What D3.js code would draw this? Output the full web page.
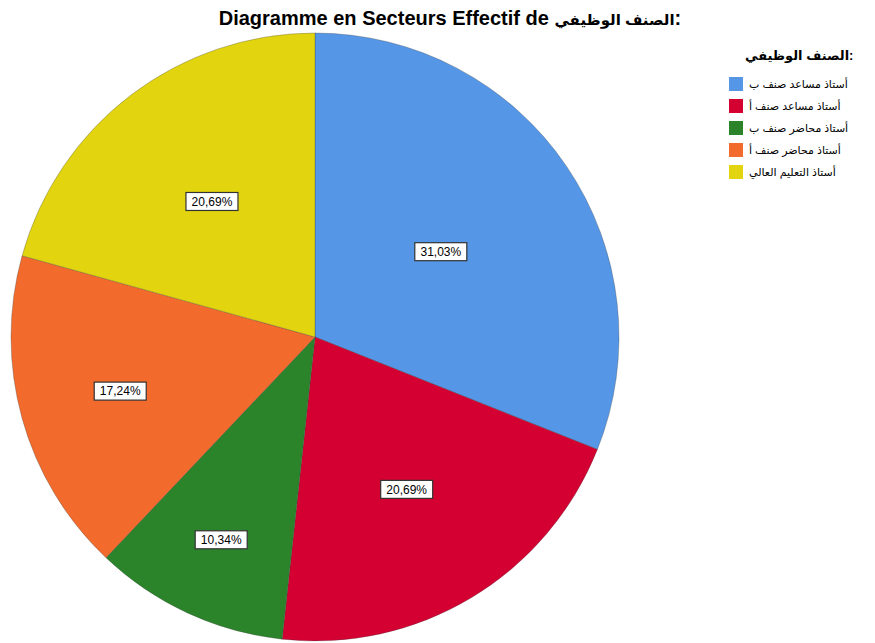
<!DOCTYPE html>
<html>
<head>
<meta charset="utf-8">
<script src="https://cdn.jsdelivr.net/npm/d3@7"></script>
<style>
  body { margin: 0; background: #fff; }
  text { font-family: "Liberation Sans", Arial, "DejaVu Sans", sans-serif; }
</style>
</head>
<body>
<div class="chart"></div>
<script>
// categories (legend order) and their shares in %
const categories = [
    "أستاذ مساعد صنف ب",
    "أستاذ مساعد صنف أ",
    "أستاذ محاضر صنف ب",
    "أستاذ محاضر صنف أ",
    "أستاذ التعليم العالي"
];
const percents = [31.03, 20.69, 10.34, 17.24, 20.69];
const labels = ["31,03%", "20,69%", "10,34%", "17,24%", "20,69%"];
const colors = ["#5597e6", "#d50032", "#2b842a", "#f26a2c", "#e2d510"];

const titleLatin = "Diagramme en Secteurs Effectif de ";
const titleArabic = "الصنف الوظيفي";
const legendTitle = "الصنف الوظيفي:";

const width = 875;
const height = 643;

// where each label box sits along its slice, as a share of the radius
const labelPos = [0.5, 0.585, 0.735, 0.665, 0.56];

const svg = d3.select("div.chart")
    .append("svg")
    .attr("width", width)
    .attr("height", height);

// title
const title = svg.append("text")
    .attr("x", 450)
    .attr("y", 25)
    .attr("text-anchor", "middle")
    .attr("font-size", "20px")
    .attr("font-weight", "bold");
title.append("tspan").text(titleLatin);
title.append("tspan").attr("font-size", "15px").text(titleArabic);
title.append("tspan").text(":");

const radius = 304;
const g = svg.append("g").attr("transform", "translate(315,337)");

const pie = d3.pie().sort(null).value(d => d);
const arc = d3.arc().innerRadius(0).outerRadius(radius);
const arcs = pie(percents);

g.selectAll("path")
    .data(arcs)
    .enter()
    .append("path")
    .attr("d", arc)
    .attr("fill", (d, i) => colors[i])
    .attr("stroke", "rgba(60,60,60,0.5)")
    .attr("stroke-width", 0.6);

// percentage labels in boxes inside each slice
const lab = g.selectAll("g.lab")
    .data(arcs)
    .enter()
    .append("g")
    .attr("class", "lab")
    .attr("transform", (d, i) => {
        const r = radius * labelPos[i];
        const a = (d.startAngle + d.endAngle) / 2;
        return "translate(" + (r * Math.sin(a)) + "," + (-r * Math.cos(a)) + ")";
    });

lab.append("rect")
    .attr("x", -26)
    .attr("y", -9)
    .attr("width", 52)
    .attr("height", 18)
    .attr("fill", "#fff")
    .attr("stroke", "#333")
    .attr("stroke-width", 1.2);

lab.append("text")
    .attr("text-anchor", "middle")
    .attr("dy", "0.36em")
    .attr("font-size", "12px")
    .attr("fill", "#000")
    .text((d, i) => labels[i]);

// legend
const legend = svg.append("g").attr("transform", "translate(729,0)");

legend.append("text")
    .attr("x", 16)
    .attr("y", 60)
    .attr("font-size", "13px")
    .attr("font-weight", "bold")
    .text(legendTitle);

const item = legend.selectAll("g.item")
    .data(categories)
    .enter()
    .append("g")
    .attr("class", "item")
    .attr("transform", (d, i) => "translate(0," + (77 + i * 22) + ")");

item.append("rect")
    .attr("width", 14)
    .attr("height", 14)
    .attr("fill", (d, i) => colors[i]);

item.append("text")
    .attr("x", 20)
    .attr("y", 11)
    .attr("font-size", "11px")
    .text(d => d);
</script>
</body>
</html>
